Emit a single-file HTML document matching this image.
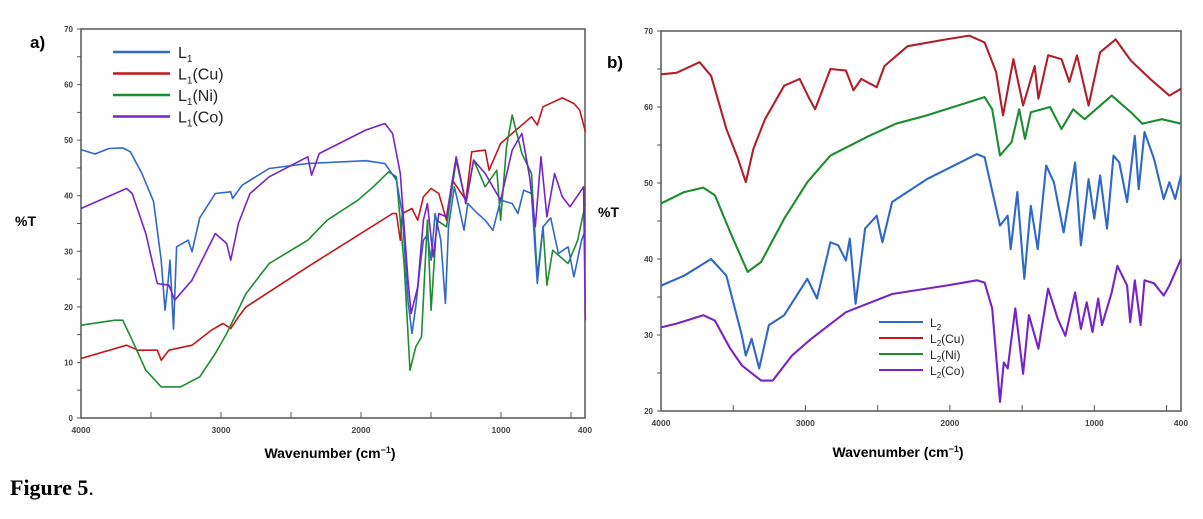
<!DOCTYPE html>
<html><head><meta charset="utf-8">
<style>
body{margin:0;background:#fff;width:1203px;height:519px;overflow:hidden;font-family:"Liberation Sans",Arial,sans-serif}
svg{position:absolute;left:0;top:0}
</style></head>
<body>
<svg width="1203" height="519" id="fig"></svg>
<script>
// ---- panel a data (wavenumber cm-1, %T) ----
const aL1x=[4000,3900,3800,3700,3647,3565,3482,3427,3400,3380,3364,3339,3317,3234,3207,3152,3041,2931,2917,2849,2656,2380,1967,1829,1747,1705,1664,1636,1609,1581,1554,1526,1499,1471,1430,1397,1375,1333,1306,1264,1237,1168,1113,1058,1003,920,879,838,782,741,700,645,590,521,479,424,397];
const aL1y=[48.3,47.5,48.5,48.6,47.9,44,39,28.4,19.4,24,28.4,16,30.8,32,29.9,36,40.4,40.7,39.5,41.9,44.9,45.8,46.3,45.8,42.8,36.8,21,15.2,20,26.6,32,33,28.4,36.8,32,20.6,34.4,41.6,38.6,33.8,38.6,36.8,35.6,33.8,39.2,38.6,36.8,41,40.4,24.2,34.4,36,29.6,30.8,25.4,32,33.8];
const aCux=[4000,3675,3592,3455,3427,3372,3207,3069,2986,2931,2876,2821,2380,1774,1747,1719,1705,1636,1595,1554,1499,1444,1389,1347,1251,1209,1113,1085,1003,893,782,741,700,562,479,438,397];
const aCuy=[10.7,13.1,12.2,12.2,10.4,12.2,13.1,15.8,17,16.1,18.2,20,27.2,36.8,36.8,32,36.8,37.7,35.6,39.8,41.3,40.4,35.6,42.8,39.2,47.9,48.2,44.6,49.4,51.8,54.2,52.7,56,57.6,56.6,55.4,51.5];
const aNix=[4000,3758,3702,3634,3537,3427,3289,3152,3041,2959,2821,2656,2380,2242,2022,1912,1802,1747,1691,1650,1609,1568,1526,1499,1458,1389,1320,1251,1196,1113,1030,1003,961,920,851,782,741,700,672,631,521,452,397];
const aNiy=[16.7,17.6,17.6,14,8.6,5.6,5.6,7.4,11.6,15.2,22.4,27.8,32,35.6,39.2,41.6,44.3,43.4,27.2,8.6,12.8,14.6,35.6,19.4,35.6,34.4,46.4,38.6,46.4,41.6,44.6,35.6,48.8,54.5,47.6,44,25.4,34.4,23.9,30.2,27.8,32,38.6];
const aCox=[4000,3675,3634,3537,3455,3372,3331,3207,3041,2959,2931,2876,2793,2656,2380,2353,2298,1967,1829,1774,1719,1664,1642,1595,1554,1526,1485,1444,1389,1320,1251,1196,1113,1003,920,851,796,755,714,672,617,562,507,410,398];
const aCoy=[37.7,41.3,40.4,33.2,24.2,23.9,21.2,24.8,33.2,31.4,28.4,35,40.4,43.4,47,43.7,47.6,51.8,53,51.2,44,24.8,18.8,23.6,35.6,38.6,29,36.8,36.2,47,38.6,46.4,44,39.2,48.2,51.2,43.4,34.4,47,36.2,44,39.8,38,41.6,17.6];
// ---- panel b data ----
const bCux=[4000,3893,3733,3653,3547,3467,3413,3360,3280,3147,3040,2973,2933,2827,2720,2667,2613,2507,2453,2293,2027,1867,1760,1680,1632,1560,1493,1413,1387,1320,1227,1173,1120,1040,960,853,747,613,480,400];
const bCuy=[64.3,64.5,65.9,64.1,57.1,53.2,50.1,54.5,58.4,62.8,63.7,61.1,59.7,65,64.8,62.2,63.7,62.6,65.4,68,68.9,69.4,68.5,64.6,58.9,66.3,60.2,65.4,61.1,66.8,66.3,63.3,66.8,60.2,67.2,68.9,66.1,63.7,61.5,62.4];
const bNix=[4000,3840,3707,3627,3520,3400,3307,3147,2987,2827,2560,2373,2160,1760,1707,1653,1573,1520,1480,1440,1307,1227,1147,1067,1013,880,747,667,533,400];
const bNiy=[47.3,48.8,49.4,48.4,43.5,38.3,39.6,45.3,50.1,53.6,56.2,57.8,58.9,61.3,59.7,53.6,55.4,59.7,55.8,59.3,60,57.1,59.7,58.4,59.3,61.5,59.3,57.8,58.4,57.8];
const bL2x=[4000,3840,3653,3547,3440,3413,3373,3320,3253,3147,2987,2920,2827,2773,2720,2693,2653,2587,2507,2467,2400,2160,1813,1760,1653,1600,1579,1533,1485,1440,1392,1333,1280,1213,1133,1093,1040,1000,960,912,867,827,773,720,693,653,587,520,480,440,400];
const bL2y=[36.5,37.8,40,37.8,29.9,27.3,29.5,25.6,31.3,32.6,37.4,34.8,42.2,41.8,39.8,42.7,34.1,44,45.7,42.2,47.5,50.5,53.8,53.4,44.4,45.7,41.3,48.8,37.4,47,41.3,52.3,50.1,43.5,52.7,41.8,50.5,45.3,51,44,53.6,52.7,47.5,56.2,49.2,56.7,53.2,47.9,50.1,47.9,51];
const bCox=[4000,3893,3707,3627,3520,3440,3307,3227,3093,2960,2720,2400,2027,1813,1760,1707,1653,1627,1600,1547,1493,1453,1387,1320,1253,1200,1133,1093,1053,1013,973,947,880,840,773,752,720,680,653,587,520,480,400];
const bCoy=[31,31.5,32.6,31.9,28.2,26,24,24,27.3,29.5,33,35.4,36.5,37.2,36.9,33.5,21.2,26.4,25.6,33.5,24.9,32.6,28.2,36.1,32.1,29.9,35.6,30.8,34.3,30.4,34.8,31.3,35.6,39.1,36.5,31.7,37.2,31.3,37.2,36.8,35.2,36.5,40];
const aYTicks=[0,10,20,30,40,50,60,70];
const bYTicks=[20,30,40,50,60,70];
const xTickLabels=[4000,3000,2000,1000,400];

const NS='http://www.w3.org/2000/svg';
const svg=document.getElementById('fig');
function mk(tag,attrs,parent){const e=document.createElementNS(NS,tag);for(const k in attrs)e.setAttribute(k,attrs[k]);(parent||svg).appendChild(e);return e;}
function txt(x,y,s,attrs,name){const t=mk('text',Object.assign({x:x,y:y},attrs));t.textContent=s;


return t;}

function panel(P){
  const g=mk('g',{});
  
  
  const X=v=>P.x0+(4000-v)/3600*(P.x1-P.x0);
  const Y=v=>P.y1-(v-P.ymin)/(P.ymax-P.ymin)*(P.y1-P.y0);
  const f=mk('rect',{x:P.x0,y:P.y0,width:P.x1-P.x0,height:P.y1-P.y0,fill:'none',stroke:'#555','stroke-width':1.5},g);
  
  
  for(let v=P.ymin;v<=P.ymax;v+=5){mk('line',{x1:P.x0-4,x2:P.x0,y1:Y(v),y2:Y(v),stroke:'#555','stroke-width':1},g);}
  for(let v=3500;v>=500;v-=500){mk('line',{x1:X(v),x2:X(v),y1:P.y1,y2:P.y1-6,stroke:'#555','stroke-width':1},g);}
  P.yt.forEach(v=>{txt(P.x0-8,Y(v)+3,String(v),{'font-size':8,'font-weight':'bold','fill':'#444','text-anchor':'end'},'y-tick-label');});
  xTickLabels.forEach(v=>{txt(X(v),P.y1+15,String(v),{'font-size':8.5,'font-weight':'bold','fill':'#444','text-anchor':'middle'},'x-tick-label');});
  P.series.forEach(s=>{
    let d='';for(let i=0;i<s.x.length;i++){d+=(i?'L':'M')+X(s.x[i]).toFixed(1)+' '+Y(s.y[i]).toFixed(1);}
    const p=mk('path',{d:d,fill:'none',stroke:s.c,'stroke-width':P.sw,'stroke-linejoin':'round'},g);
    
    
  });
}
const BL='#2f68c8',RD='#c4161c',GR='#1e8c32',PU='#7524c8';
panel({name:'panel-a',sw:1.6,x0:81,x1:585,y0:29,y1:418,ymin:0,ymax:70,yt:aYTicks,series:[
 {x:aCux,y:aCuy,c:RD,n:'series-l1-cu'},{x:aNix,y:aNiy,c:GR,n:'series-l1-ni'},{x:aL1x,y:aL1y,c:BL,n:'series-l1'},{x:aCox,y:aCoy,c:PU,n:'series-l1-co'}]});
panel({name:'panel-b',sw:2.1,x0:661,x1:1181,y0:31,y1:411,ymin:20,ymax:70,yt:bYTicks,series:[
 {x:bCux,y:bCuy,c:'#b0202a',n:'series-l2-cu'},{x:bNix,y:bNiy,c:GR,n:'series-l2-ni'},{x:bL2x,y:bL2y,c:BL,n:'series-l2'},{x:bCox,y:bCoy,c:PU,n:'series-l2-co'}]});

// legends
const legA=[['L','1','',BL],['L','1','(Cu)',RD],['L','1','(Ni)',GR],['L','1','(Co)',PU]];
legA.forEach((l,i)=>{const y=52+i*21.5;
 const ln=mk('line',{x1:113,x2:170,y1:y,y2:y,stroke:l[3],'stroke-width':2.5});
 
 
 const t=mk('text',{x:178,y:y+6,'font-size':16,fill:'#222'});
 
 
 t.innerHTML='L<tspan font-size="10" dy="4">1</tspan><tspan dy="-4">'+l[2]+'</tspan>';});
const legB=[['2','',BL],['2','(Cu)',RD],['2','(Ni)',GR],['2','(Co)',PU]];
legB.forEach((l,i)=>{const y=322+i*16;
 const ln=mk('line',{x1:879,x2:923,y1:y,y2:y,stroke:l[2],'stroke-width':2});
 
 
 const t=mk('text',{x:930,y:y+5,'font-size':12,fill:'#222'});
 
 
 t.innerHTML='L<tspan font-size="8" dy="3">2</tspan><tspan dy="-3">'+l[1]+'</tspan>';});

txt(30,48,'a)',{'font-size':17,'font-weight':'bold'},'panel-a-label');
txt(607,68,'b)',{'font-size':17,'font-weight':'bold'},'panel-b-label');
txt(15,226,'%T',{'font-size':14,'font-weight':'bold'},'y-axis-title-a');
txt(598,217,'%T',{'font-size':14,'font-weight':'bold'},'y-axis-title-b');
const w1=txt(330,458,'Wavenumber (cm',{'font-size':14,'font-weight':'bold','text-anchor':'middle'},'x-axis-title-a');
w1.innerHTML='Wavenumber (cm<tspan font-size="9" dy="-5">−1</tspan><tspan dy="5">)</tspan>';
const w2=txt(898,457,'Wavenumber (cm',{'font-size':14,'font-weight':'bold','text-anchor':'middle'},'x-axis-title-b');
w2.innerHTML='Wavenumber (cm<tspan font-size="9" dy="-5">−1</tspan><tspan dy="5">)</tspan>';
const fg=txt(10,495,'Figure 5',{'font-size':22,'font-weight':'bold','font-family':'Liberation Serif, serif'},'figure-caption');
fg.innerHTML='Figure 5<tspan font-weight="normal">.</tspan>';
</script>
</body></html>
